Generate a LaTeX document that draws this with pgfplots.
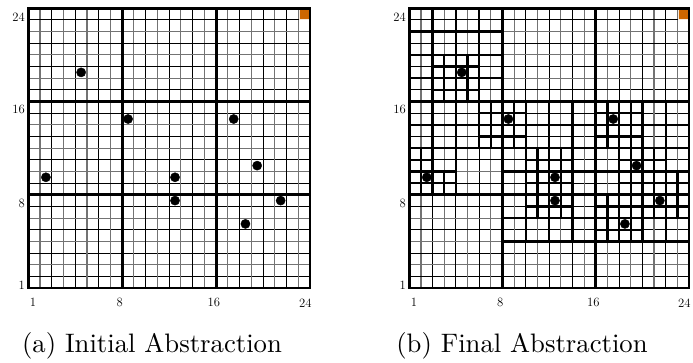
\documentclass[border=0pt]{standalone}
\usepackage{pgfplots}
\usepackage{graphicx}
\pgfplotsset{compat=1.18}
\definecolor{myorange}{RGB}{204,102,0}
\tikzset{
  thinA/.style={black!55, line width=1.1pt},
  thinB/.style={black, line width=1pt},
  blk/.style={black, line width=2.3pt, line cap=rect},
  major/.style={black, line width=2.9pt, line cap=rect},
}
% thin 24x24 grid
\newcommand{\thingrid}{%
  \foreach \k in {1,3,...,23}{\edef\tmp{\noexpand\addplot[thinA] coordinates {(\k,0) (\k,24)};\noexpand\addplot[thinB] coordinates {(0,\k) (24,\k)};}\tmp}%
  \foreach \k in {2,4,...,22}{\edef\tmp{\noexpand\addplot[thinB] coordinates {(\k,0) (\k,24)};\noexpand\addplot[thinA] coordinates {(0,\k) (24,\k)};}\tmp}%
}
% block grid: x0, x0+step, x1, y0, y0+step, y1
\newcommand{\cells}[6]{%
  \foreach \xx in {#1,#2,...,#3}{\edef\tmp{\noexpand\addplot[blk] coordinates {(\xx,#4) (\xx,#6)};}\tmp}%
  \foreach \yy in {#4,#5,...,#6}{\edef\tmp{\noexpand\addplot[blk] coordinates {(#1,\yy) (#3,\yy)};}\tmp}%
}
\newcommand{\majorlines}{%
  \addplot[major] coordinates {(8,0) (8,24)};
  \addplot[major] coordinates {(16,0) (16,24)};
  \addplot[major] coordinates {(0,8) (24,8)};
  \addplot[major] coordinates {(0,16) (24,16)};
  \addplot[major] coordinates {(0,0) (24,0) (24,24) (0,24)} -- cycle;
}
\newcommand{\goal}{%
  \addplot[fill=myorange, draw=white!85!myorange, line width=0.5pt] coordinates {(23.06,23.06) (23.94,23.06) (23.94,23.94) (23.06,23.94)} -- cycle;
}
\newcommand{\points}{%
  \addplot[only marks, mark=*, mark size=4.6pt, black] coordinates {
    (4.5,18.5) (8.5,14.5) (17.5,14.5) (1.5,9.5) (12.5,9.5)
    (19.5,10.5) (12.5,7.5) (21.5,7.5) (18.5,5.5)};
}
\pgfplotsset{gridax/.style={
  scale only axis, anchor=south west, clip=false,
  xmin=0, xmax=24, ymin=0, ymax=24,
  axis line style={draw=none},
  xtick={0.4,7.8,15.8,23.6}, xticklabels={1,8,16,24},
  ytick={0.25,7.3,15.3,23.25}, yticklabels={1,8,16,24},
  major tick length=0pt,
  tick label style={font=\fontsize{12.7}{14}\selectfont},
  xticklabel style={yshift=-7pt},
}}
\begin{document}
\begin{tikzpicture}
\path[use as bounding box] (0pt,0pt) rectangle (693pt,362pt);
\begin{axis}[gridax, at={(28.3pt,74pt)}, width=281.7pt, height=279.7pt]
  \thingrid
  \goal
  \majorlines
  \points
\end{axis}
\begin{axis}[gridax, at={(409.3pt,74pt)}, width=279.7pt, height=279.7pt]
  \thingrid
  \goal
  % top-left block
  \cells{0}{2}{8}{20}{22}{24}
  \cells{0}{2}{2}{16}{18}{20}
  \cells{2}{3}{6}{16}{17}{20}
  \cells{6}{8}{8}{16}{18}{20}
  % middle-left block
  \cells{0}{1}{2}{8}{9}{12}
  \cells{2}{3}{4}{8}{9}{10}
  \cells{2}{4}{4}{10}{12}{12}
  \cells{4}{8}{8}{8}{12}{12}
  \cells{0}{2}{4}{12}{14}{16}
  \cells{4}{6}{6}{12}{14}{16}
  \cells{6}{7}{8}{12}{13}{16}
  % middle block
  \cells{8}{9}{10}{12}{13}{16}
  \cells{10}{12}{12}{12}{14}{16}
  \cells{12}{14}{16}{12}{14}{16}
  \cells{8}{10}{10}{8}{10}{12}
  \cells{10}{11}{14}{8}{9}{12}
  \cells{14}{16}{16}{8}{10}{12}
  % middle-right block
  \cells{16}{17}{20}{12}{13}{16}
  \cells{20}{22}{24}{12}{14}{16}
  \cells{16}{18}{18}{8}{10}{12}
  \cells{18}{19}{22}{8}{9}{12}
  \cells{22}{23}{24}{8}{9}{10}
  \cells{22}{24}{24}{10}{12}{12}
  % bottom-middle block
  \cells{8}{10}{10}{4}{6}{8}
  \cells{10}{11}{14}{6}{7}{8}
  \cells{10}{12}{14}{4}{6}{6}
  \cells{14}{16}{16}{4}{6}{8}
  \cells{8}{16}{16}{0}{4}{4}
  % bottom-right block
  \cells{16}{17}{20}{4}{5}{8}
  \cells{20}{21}{24}{6}{7}{8}
  \cells{20}{22}{24}{4}{6}{6}
  \cells{16}{24}{24}{0}{4}{4}
  \majorlines
  \points
\end{axis}
\node at (152pt,16pt) {\scalebox{2.67}{(a) Initial Abstraction}};
\node at (522pt,16pt) {\scalebox{2.67}{(b) Final Abstraction}};
\end{tikzpicture}
\end{document}
